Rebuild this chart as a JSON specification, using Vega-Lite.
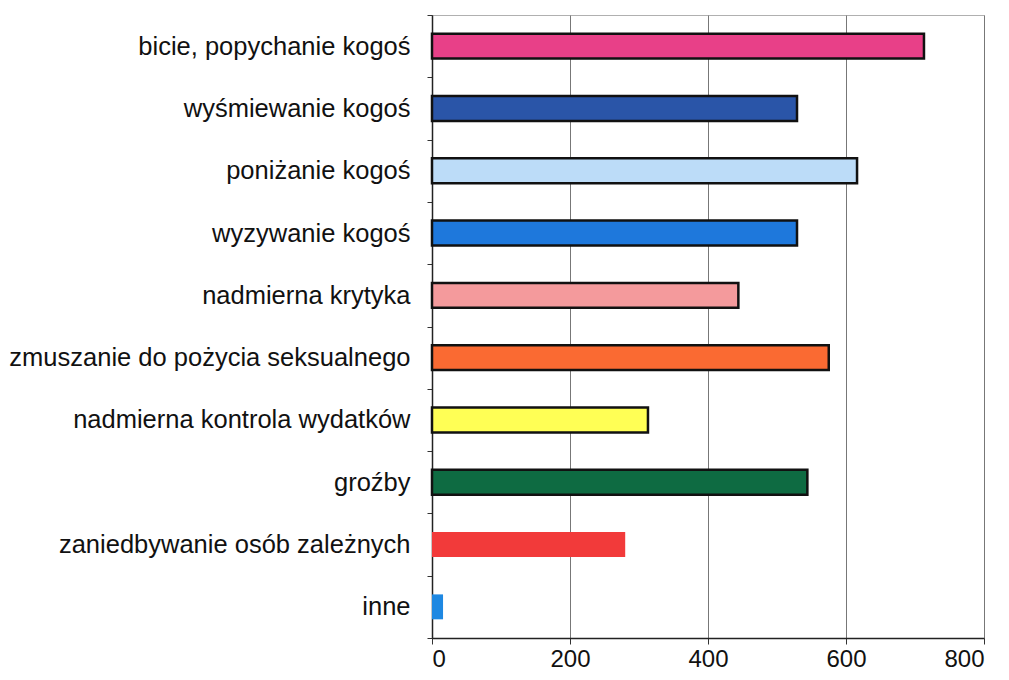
{
  "$schema": "https://vega.github.io/schema/vega-lite/v6.json",
  "width": 552,
  "height": 623,
  "autosize": "none",
  "padding": {"left": 432, "top": 15, "right": 25, "bottom": 42},
  "background": "white",
  "config": {
    "view": {"stroke": "#b0b0b0", "strokeWidth": 1},
    "font": "Liberation Sans"
  },
  "data": {
    "values": [
      {"kategoria": "bicie, popychanie kogoś", "wartosc": 713},
      {"kategoria": "wyśmiewanie kogoś", "wartosc": 529},
      {"kategoria": "poniżanie kogoś", "wartosc": 616},
      {"kategoria": "wyzywanie kogoś", "wartosc": 529},
      {"kategoria": "nadmierna krytyka", "wartosc": 444},
      {"kategoria": "zmuszanie do pożycia seksualnego", "wartosc": 575},
      {"kategoria": "nadmierna kontrola wydatków", "wartosc": 313},
      {"kategoria": "groźby", "wartosc": 544},
      {"kategoria": "zaniedbywanie osób zależnych", "wartosc": 280},
      {"kategoria": "inne", "wartosc": 16}
    ]
  },
  "mark": {"type": "bar", "stroke": "#111111", "height": {"band": 0.4}},
  "encoding": {
    "y": {
      "field": "kategoria",
      "type": "nominal",
      "sort": null,
      "scale": {"paddingInner": 0, "paddingOuter": 0},
      "axis": {
        "title": null,
        "labelFontSize": 25.5,
        "labelColor": "#111111",
        "labelPadding": 17,
        "tickBand": "extent",
        "tickSize": 5,
        "tickColor": "#333333",
        "domainColor": "#222222",
        "domainWidth": 1.5,
        "labelLimit": 500
      }
    },
    "x": {
      "field": "wartosc",
      "type": "quantitative",
      "scale": {"domain": [0, 800]},
      "axis": {
        "title": null,
        "values": [0, 200, 400, 600, 800],
        "labelFontSize": 24,
        "labelColor": "#111111",
        "labelPadding": 3,
        "tickSize": 6,
        "tickColor": "#333333",
        "domainColor": "#222222",
        "domainWidth": 1.5,
        "grid": true,
        "gridColor": "#777777",
        "gridWidth": 1
      }
    },
    "color": {
      "field": "kategoria",
      "type": "nominal",
      "legend": null,
      "scale": {
        "domain": ["bicie, popychanie kogoś", "wyśmiewanie kogoś", "poniżanie kogoś", "wyzywanie kogoś", "nadmierna krytyka", "zmuszanie do pożycia seksualnego", "nadmierna kontrola wydatków", "groźby", "zaniedbywanie osób zależnych", "inne"],
        "range": ["#E84088", "#2A55A8", "#BCDCF8", "#1E78DC", "#F49A9C", "#FA6A32", "#FFFF55", "#0E6B42", "#F23A3A", "#1E88E2"]
      }
    },
    "strokeWidth": {
      "condition": {"test": "datum.kategoria === 'inne' || datum.kategoria === 'zaniedbywanie osób zależnych'", "value": 0},
      "value": 2.5
    }
  }
}
